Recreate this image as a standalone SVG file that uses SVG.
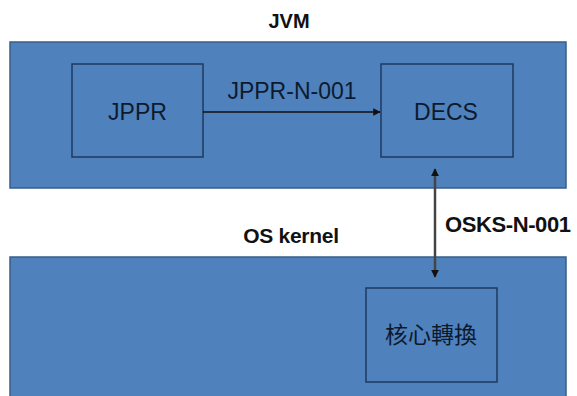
<svg xmlns="http://www.w3.org/2000/svg" width="577" height="396" viewBox="0 0 577 396">
  <style>
    .panel { fill: #4f81bd; stroke: #385d8a; stroke-width: 1.5; }
    .node { fill: #4f81bd; stroke: #1f3a60; stroke-width: 1.5; }
    .lbl { font-family: "Liberation Sans", Arial, sans-serif; fill: #0d1a2e; text-anchor: middle; }
    .cap { font-family: "Liberation Sans", Arial, sans-serif; fill: #111; font-weight: bold; }
    .cjk { font-family: "Liberation Sans", "Noto Sans CJK TC", sans-serif; fill: #0d1a2e; text-anchor: middle; }
    .edge { stroke: #111; stroke-width: 1.5; fill: none; }
    .edge2 { stroke: #444; stroke-width: 2.5; fill: none; }
  </style>
  <defs>
    <marker id="arrow" viewBox="0 0 10 10" refX="9" refY="5" markerWidth="5" markerHeight="5" orient="auto-start-reverse" markerUnits="strokeWidth">
      <path d="M0,0 L10,5 L0,10 z" fill="#111"/>
    </marker>
    <marker id="arrow2" viewBox="0 0 10 10" refX="9" refY="5" markerWidth="3.2" markerHeight="3.2" orient="auto-start-reverse" markerUnits="strokeWidth">
      <path d="M0,0 L10,5 L0,10 z" fill="#111"/>
    </marker>
  </defs>

  <rect width="577" height="396" fill="#ffffff"/>

  <!-- JVM layer -->
  <g id="jvm">
    <text class="cap" x="289" y="28" font-size="20" text-anchor="middle">JVM</text>
    <rect class="panel" x="10" y="42" width="556" height="146"/>
  </g>

  <!-- OS kernel layer -->
  <g id="os-kernel">
    <text class="cap" x="291" y="243" font-size="21" text-anchor="middle" letter-spacing="-0.3">OS kernel</text>
    <rect class="panel" x="10" y="257" width="556" height="150"/>
  </g>

  <g id="jppr">
    <rect class="node" x="72" y="64" width="131" height="93"/>
    <text class="lbl" x="137.5" y="120" font-size="23">JPPR</text>
  </g>

  <g id="decs">
    <rect class="node" x="381" y="64" width="132" height="93"/>
    <text class="lbl" x="446" y="120" font-size="23">DECS</text>
  </g>

  <g id="kernel-convert">
    <rect class="node" x="366" y="288" width="131" height="94"/>
    <text class="cjk" x="431" y="343" font-size="23">核心轉換</text>
  </g>

  <!-- connectors -->
  <g id="connectors">
    <line class="edge" x1="203" y1="112" x2="380" y2="112" marker-end="url(#arrow)"/>
    <text class="lbl" x="292" y="99" font-size="23">JPPR-N-001</text>
    <line class="edge2" x1="435" y1="169" x2="435" y2="277" marker-start="url(#arrow2)" marker-end="url(#arrow2)"/>
    <text class="cap" x="445" y="232" font-size="22" letter-spacing="-0.4">OSKS-N-001</text>
  </g>
</svg>
